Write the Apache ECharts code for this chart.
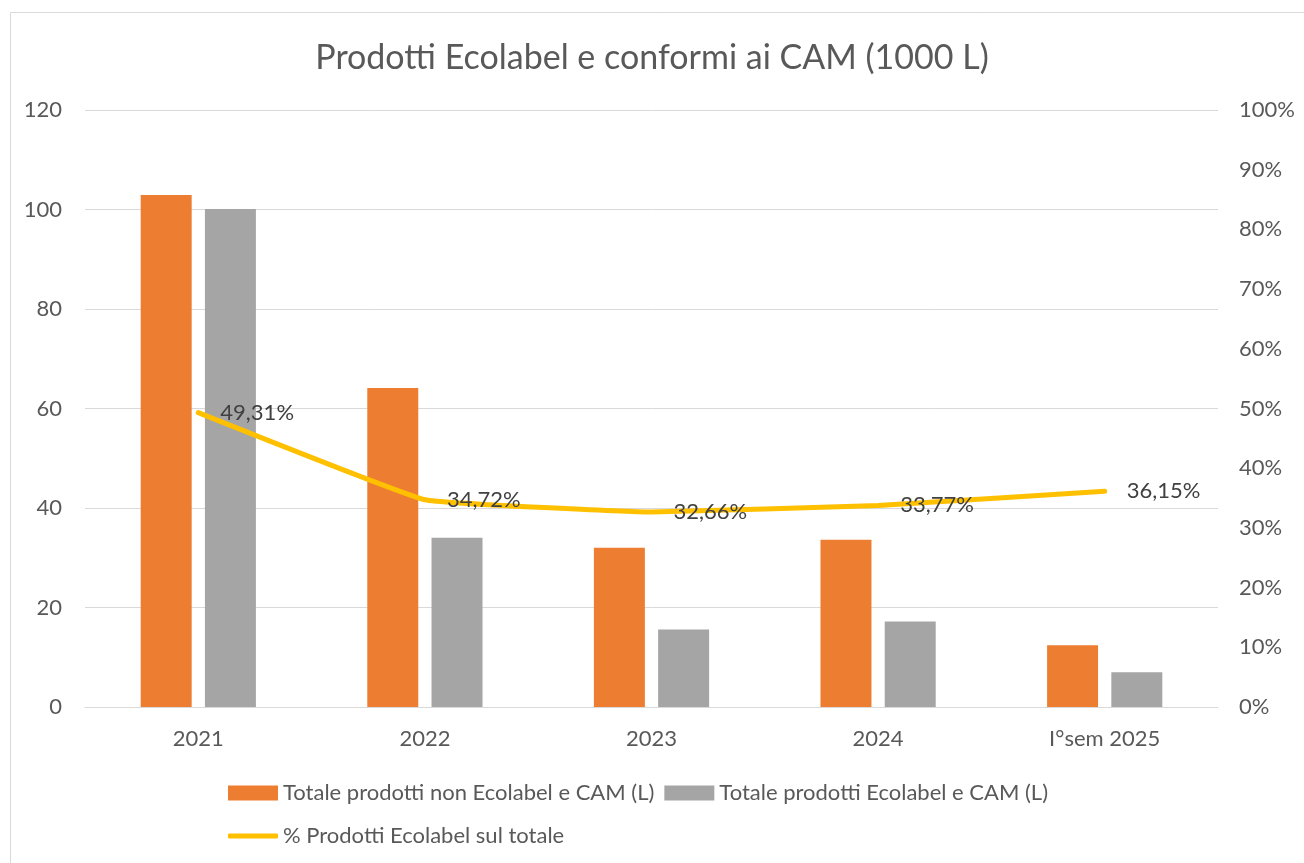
<!DOCTYPE html>
<html>
<head>
<meta charset="utf-8">
<script src="https://cdn.jsdelivr.net/npm/echarts@6/dist/echarts.min.js"></script>
<style>
  html, body { margin: 0; padding: 0; background: #fff; }
  #chart { width: 1304px; height: 863px; }
</style>
</head>
<body>
<div id="chart"></div>
<script>
// dati
const anni = ["2021", "2022", "2023", "2024", "I°sem 2025"];
const nonEcolabel = [102.9, 64.1, 32.0, 33.6, 12.4];
const ecolabel = [100.1, 34.0, 15.6, 17.2, 7.0];
const percEcolabel = [49.31, 34.72, 32.66, 33.77, 36.15];

const testo = "#595959";
const font = "Lato";

let myChart = echarts.init(document.getElementById("chart"));
let option = {
  backgroundColor: "#fff",
  textStyle: { fontFamily: font, color: testo },
  graphic: [
    {
      type: "rect",
      shape: { x: 10.5, y: 12.5, width: 1310, height: 870 },
      style: { fill: "none", stroke: "#D9D9D9", lineWidth: 1 },
      silent: true,
    },
  ],
  title: {
    text: "Prodotti Ecolabel e conformi ai CAM (1000 L)",
    left: "center",
    top: 36,
    textStyle: { fontFamily: font, fontSize: 34, fontWeight: "normal", color: testo },
  },
  grid: { left: 85, right: 86, top: 110, bottom: 156, containLabel: false },
  legend: [
    {
      data: ["Totale prodotti non Ecolabel e CAM (L)", "Totale prodotti Ecolabel e CAM (L)"],
      left: 223,
      top: 777,
      itemWidth: 50,
      itemHeight: 15,
      itemGap: 10,
      icon: "rect",
      textStyle: { fontFamily: font, fontSize: 22, color: testo, padding: [0, 0, 0, 0] },
    },
    {
      data: ["% Prodotti Ecolabel sul totale"],
      left: 223,
      top: 820,
      itemWidth: 50,
      itemHeight: 5,
      icon: "roundRect",
      textStyle: { fontFamily: font, fontSize: 22, color: testo, padding: [0, 0, 0, 0] },
    },
  ],
  xAxis: {
    type: "category",
    data: anni,
    axisLine: { lineStyle: { color: "#D9D9D9", width: 1 } },
    axisTick: { show: false },
    axisLabel: { fontFamily: font, fontSize: 22, color: testo, margin: 21 },
  },
  yAxis: [
    {
      type: "value",
      min: 0,
      max: 120,
      interval: 20,
      axisLine: { show: false },
      axisTick: { show: false },
      splitLine: { lineStyle: { color: "#D9D9D9", width: 1 } },
      axisLabel: { fontFamily: font, fontSize: 22, color: testo, margin: 23 },
    },
    {
      type: "value",
      min: 0,
      max: 100,
      interval: 10,
      axisLine: { show: false },
      axisTick: { show: false },
      splitLine: { show: false },
      axisLabel: { fontFamily: font, fontSize: 22, color: testo, margin: 21, formatter: "{value}%" },
    },
  ],
  series: [
    {
      name: "Totale prodotti non Ecolabel e CAM (L)",
      type: "bar",
      data: nonEcolabel,
      barWidth: "22.5%",
      barGap: "26%",
      itemStyle: { color: "#ED7D31" },
    },
    {
      name: "Totale prodotti Ecolabel e CAM (L)",
      type: "bar",
      data: ecolabel,
      barWidth: "22.5%",
      itemStyle: { color: "#A5A5A5" },
    },
    {
      name: "% Prodotti Ecolabel sul totale",
      type: "line",
      yAxisIndex: 1,
      data: percEcolabel,
      symbol: "circle",
      symbolSize: 0.1,
      showSymbol: true,
      smooth: 0.08,
      lineStyle: { color: "#FFC000", width: 5, cap: "round", join: "round" },
      itemStyle: { color: "#FFC000" },
      label: {
        show: true,
        position: "right",
        distance: 22,
        fontFamily: font,
        fontSize: 22,
        color: "#404040",
        formatter: (p) => p.value.toFixed(2).replace(".", ",") + "%",
      },
      z: 5,
    },
  ],
};
myChart.setOption(option);
</script>
</body>
</html>
